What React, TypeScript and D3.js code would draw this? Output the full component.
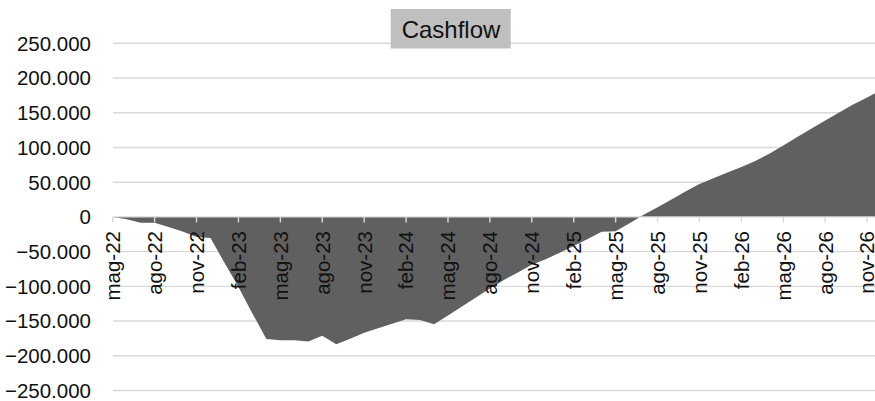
import React, { useRef, useEffect } from "react";
import * as d3 from "d3";

// monthly cashflow, mag-22 .. dic-26
const monthNames = ["gen", "feb", "mar", "apr", "mag", "giu", "lug", "ago", "set", "ott", "nov", "dic"];
const startMonth = 4; // mag
const startYear = 22;

const cashflow = [
  0, -3500, -8500, -8500, -14500, -21000, -29000, -30500,
  -66000, -101000, -139000, -176000, -177500, -177500, -179500, -171000,
  -183500, -175500, -167000, -160500, -154000, -147500, -148500, -154500,
  -142000, -129000, -116000, -103000, -91000, -80000, -69000, -61000,
  -51500, -42000, -32000, -21500, -20500, -9000, 3000, 14000,
  25000, 36500, 47500, 55500, 64000, 72000, 80500, 91000,
  103000, 115000, 127000, 139000, 150500, 162000, 172000, 183000,
];

const months = cashflow.map((_, i) => {
  const m = startMonth + i;
  return `${monthNames[m % 12]}-${startYear + Math.floor(m / 12)}`;
});

const yTicks = [250000, 200000, 150000, 100000, 50000, 0, -50000, -100000, -150000, -200000, -250000];
const title = "Cashflow";

const App: React.FC = () => {
  const svgRef = useRef<SVGSVGElement | null>(null);

  useEffect(() => {
    const svg = d3.select(svgRef.current);
    svg.selectAll("*").remove();

    const W = 875;
    const H = 401;
    const font = "'Liberation Sans', Arial, sans-serif";

    const x = d3
      .scalePoint<string>()
      .domain(months)
      .range([112.7, 112.7 + 13.97 * (months.length - 1)]);

    const y = d3.scaleLinear().domain([-250000, 250000]).range([390.5, 43.3]);

    const fmt = (v: number) =>
      v === 0 ? "0" : d3.format(",")(v).replace(/,/g, ".").replace("-", "-");

    // gridlines
    svg
      .append("g")
      .selectAll("line")
      .data(yTicks.filter((d) => d !== 0))
      .enter()
      .append("line")
      .attr("x1", 113)
      .attr("x2", W)
      .attr("y1", (d) => y(d))
      .attr("y2", (d) => y(d))
      .attr("stroke", "#d9d9d9")
      .attr("stroke-width", 1.4);

    // area
    const area = d3
      .area<number>()
      .x((_, i) => x(months[i]) as number)
      .y0(y(0))
      .y1((d) => y(d));

    svg
      .append("path")
      .datum(cashflow)
      .attr("fill", "#606060")
      .attr("d", area);

    // y labels
    svg
      .append("g")
      .selectAll("text")
      .data(yTicks)
      .enter()
      .append("text")
      .attr("x", 91)
      .attr("y", (d) => y(d))
      .attr("dy", "0.36em")
      .attr("text-anchor", "end")
      .attr("font-family", font)
      .attr("font-size", 20.5)
      .attr("fill", "#111")
      .text((d) => fmt(d));

    // x axis
    const xAxis = svg.append("g");
    xAxis
      .append("line")
      .attr("x1", 113)
      .attr("x2", W)
      .attr("y1", y(0))
      .attr("y2", y(0))
      .attr("stroke", "#d9d9d9")
      .attr("stroke-width", 1.4);

    const tickMonths = months.filter((_, i) => i % 3 === 0);

    xAxis
      .selectAll(".tick")
      .data(tickMonths)
      .enter()
      .append("line")
      .attr("class", "tick")
      .attr("x1", (d) => x(d) as number)
      .attr("x2", (d) => x(d) as number)
      .attr("y1", y(0))
      .attr("y2", y(0) + 5.5)
      .attr("stroke", "#d9d9d9")
      .attr("stroke-width", 1.4);

    xAxis
      .selectAll(".lbl")
      .data(tickMonths)
      .enter()
      .append("text")
      .attr("class", "lbl")
      .attr("transform", (d) => `translate(${x(d)},${231}) rotate(-90)`)
      .attr("dy", "0.36em")
      .attr("text-anchor", "end")
      .attr("font-family", font)
      .attr("font-size", 20.5)
      .attr("fill", "#111")
      .text((d) => d);

    // title
    svg
      .append("rect")
      .attr("x", 390.7)
      .attr("y", 9)
      .attr("width", 120)
      .attr("height", 39.5)
      .attr("fill", "#bfbfbf");

    svg
      .append("text")
      .attr("x", 451)
      .attr("y", 37.5)
      .attr("text-anchor", "middle")
      .attr("font-family", font)
      .attr("font-size", 24)
      .attr("fill", "#111")
      .text(title);

    svg.attr("width", W).attr("height", H);
  }, []);

  return (
    <svg
      ref={svgRef}
      width={875}
      height={401}
      style={{ position: "absolute", left: 0, top: 0, background: "#fff" }}
    />
  );
};

export default App;
